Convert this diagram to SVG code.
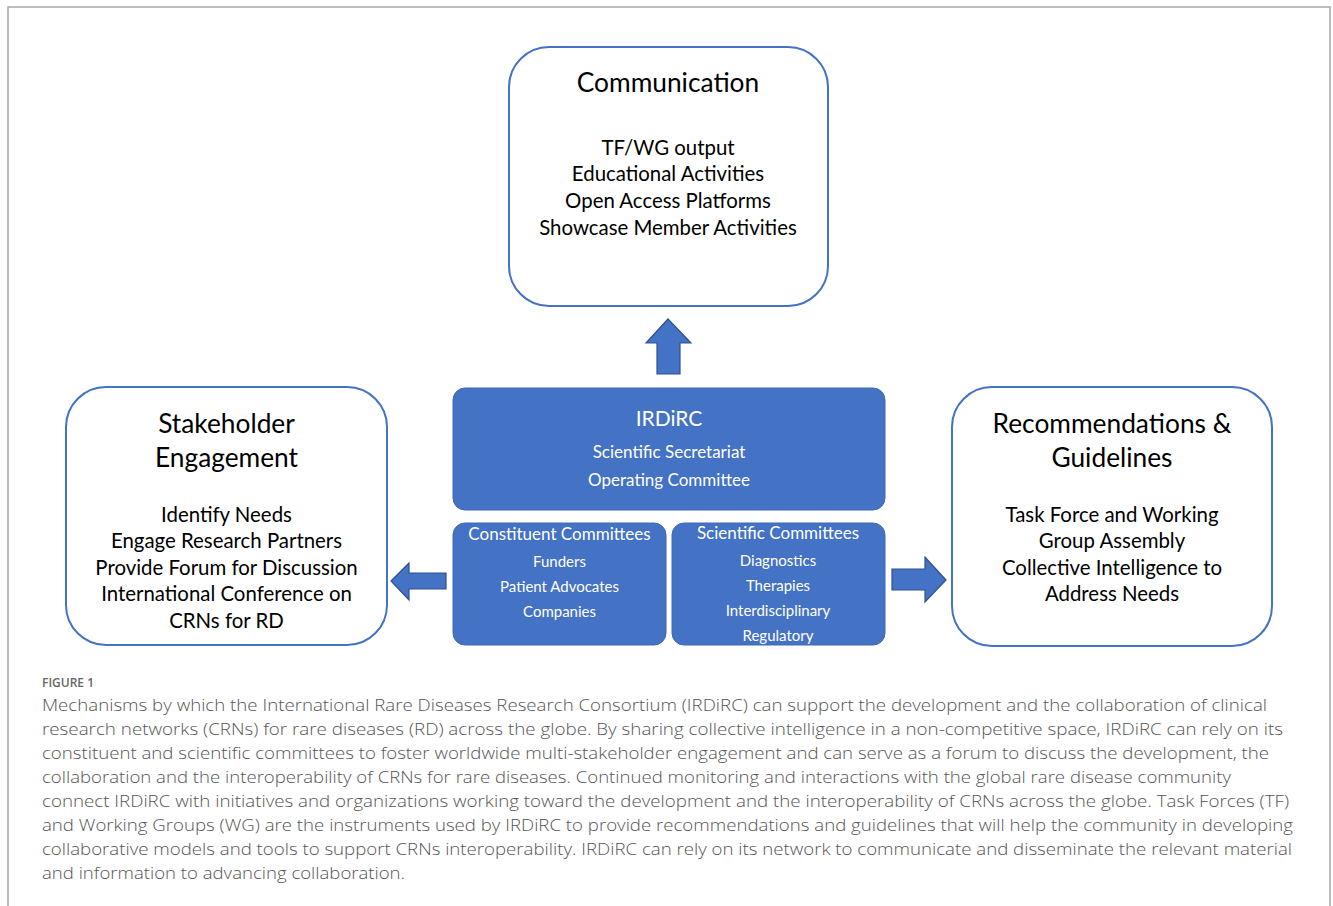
<svg xmlns="http://www.w3.org/2000/svg" width="1333" height="906" viewBox="0 0 1333 906">
<style>
.frame{fill:none;stroke:#a8a8a8;stroke-width:1.5}
.box{fill:#fff;stroke:#4472C4;stroke-width:2}
.blue{fill:#4472C4;stroke:#3f69b4;stroke-width:1}
.arrow{fill:#4472C4;stroke:#2f528f;stroke-width:1.2}
.t{font-family:Lato,"Open Sans",sans-serif;text-anchor:middle;fill:#000}
.h{font-size:26.3px}
.b{font-size:20.4px}
.w{font-family:Lato,"Open Sans",sans-serif;text-anchor:middle;fill:#fff}
.cap{font-family:"Open Sans",Lato,sans-serif;font-size:17px;fill:#555;font-weight:300}
.fig{font-family:"Open Sans",Lato,sans-serif;font-size:12px;fill:#666;font-weight:600}
</style>
<rect width="1333" height="906" fill="#fff"/>
<path class="frame" d="M8,906 V7 H1330 V906"/>

<g id="communication">
<rect class="box" x="509" y="47" width="319" height="259" rx="40"/>
<text class="t h" x="668" y="92">Communication</text>
<text class="t b" x="668" y="155">TF/WG output</text>
<text class="t b" x="668" y="181">Educational Activities</text>
<text class="t b" x="668" y="208">Open Access Platforms</text>
<text class="t b" x="668" y="235">Showcase Member Activities</text>
</g>

<g id="stakeholder">
<rect class="box" x="66" y="387" width="321" height="258" rx="40"/>
<text class="t h" x="226.5" y="433">Stakeholder</text>
<text class="t h" x="226.5" y="467">Engagement</text>
<text class="t b" x="226.5" y="522">Identify Needs</text>
<text class="t b" x="226.5" y="548">Engage Research Partners</text>
<text class="t b" x="226.5" y="575">Provide Forum for Discussion</text>
<text class="t b" x="226.5" y="601">International Conference on</text>
<text class="t b" x="226.5" y="628">CRNs for RD</text>
</g>

<g id="recommendations">
<rect class="box" x="952" y="387" width="320" height="259" rx="40"/>
<text class="t h" x="1112" y="433">Recommendations &amp;</text>
<text class="t h" x="1112" y="467">Guidelines</text>
<text class="t b" x="1112" y="522">Task Force and Working</text>
<text class="t b" x="1112" y="548">Group Assembly</text>
<text class="t b" x="1112" y="575">Collective Intelligence to</text>
<text class="t b" x="1112" y="601">Address Needs</text>
</g>

<g id="irdirc">
<rect class="blue" x="453" y="388" width="432" height="122" rx="12"/>
<text class="w" x="669" y="426" font-size="21">IRDiRC</text>
<text class="w" x="669" y="458" font-size="17">Scientific Secretariat</text>
<text class="w" x="669" y="486" font-size="17">Operating Committee</text>
</g>

<g id="constituent">
<rect class="blue" x="453" y="523" width="213" height="122" rx="12"/>
<text class="w" x="559.5" y="540" font-size="17">Constituent Committees</text>
<text class="w" x="559.5" y="567" font-size="15">Funders</text>
<text class="w" x="559.5" y="592" font-size="15">Patient Advocates</text>
<text class="w" x="559.5" y="617" font-size="15">Companies</text>
</g>

<g id="scientific">
<rect class="blue" x="672" y="523" width="213" height="122" rx="12"/>
<text class="w" x="778" y="539" font-size="17">Scientific Committees</text>
<text class="w" x="778" y="566" font-size="15">Diagnostics</text>
<text class="w" x="778" y="591" font-size="15">Therapies</text>
<text class="w" x="778" y="616" font-size="15">Interdisciplinary</text>
<text class="w" x="778" y="641" font-size="15">Regulatory</text>
</g>

<g id="connectors">
<polygon class="arrow" points="668,319 691,343 680,343 680,374 657,374 657,343 646,343"/>
<polygon class="arrow" points="391,581 409,563 409,573 446,573 446,589 409,589 409,600"/>
<polygon class="arrow" points="946,580 925,557 925,569 892,569 892,590 925,590 925,602"/>
</g>

<g id="caption">
<text class="fig" x="42" y="687">FIGURE 1</text>
<text class="cap" x="42" y="711" textLength="1225" lengthAdjust="spacingAndGlyphs">Mechanisms by which the International Rare Diseases Research Consortium (IRDiRC) can support the development and the collaboration of clinical</text>
<text class="cap" x="42" y="735" textLength="1241" lengthAdjust="spacingAndGlyphs">research networks (CRNs) for rare diseases (RD) across the globe. By sharing collective intelligence in a non-competitive space, IRDiRC can rely on its</text>
<text class="cap" x="42" y="759" textLength="1227" lengthAdjust="spacingAndGlyphs">constituent and scientific committees to foster worldwide multi-stakeholder engagement and can serve as a forum to discuss the development, the</text>
<text class="cap" x="42" y="783" textLength="1189" lengthAdjust="spacingAndGlyphs">collaboration and the interoperability of CRNs for rare diseases. Continued monitoring and interactions with the global rare disease community</text>
<text class="cap" x="42" y="807" textLength="1247" lengthAdjust="spacingAndGlyphs">connect IRDiRC with initiatives and organizations working toward the development and the interoperability of CRNs across the globe. Task Forces (TF)</text>
<text class="cap" x="42" y="831" textLength="1251" lengthAdjust="spacingAndGlyphs">and Working Groups (WG) are the instruments used by IRDiRC to provide recommendations and guidelines that will help the community in developing</text>
<text class="cap" x="42" y="855" textLength="1250" lengthAdjust="spacingAndGlyphs">collaborative models and tools to support CRNs interoperability. IRDiRC can rely on its network to communicate and disseminate the relevant material</text>
<text class="cap" x="42" y="879" textLength="363" lengthAdjust="spacingAndGlyphs">and information to advancing collaboration.</text>
</g>
</svg>
